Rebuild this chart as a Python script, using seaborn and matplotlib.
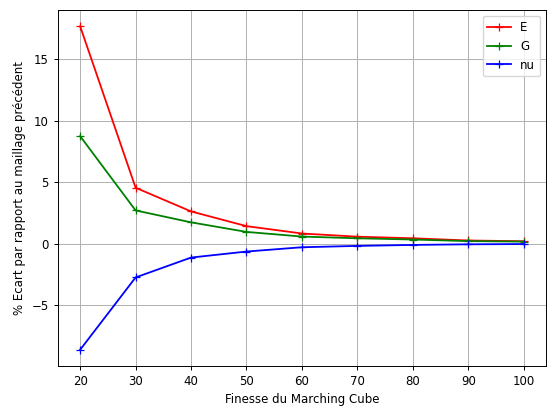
import matplotlib
matplotlib.use("Agg")
import matplotlib.pyplot as plt
import pandas as pd
import seaborn as sns

finesse = [20, 30, 40, 50, 60, 70, 80, 90, 100]
ecart_E = [17.7, 4.55, 2.62, 1.42, 0.82, 0.56, 0.43, 0.25, 0.19]
ecart_G = [8.75, 2.7, 1.73, 0.95, 0.57, 0.43, 0.33, 0.2, 0.16]
ecart_nu = [-8.65, -2.76, -1.14, -0.65, -0.3, -0.19, -0.11, -0.06, -0.04]

df = pd.DataFrame({"finesse": finesse * 3,
                   "ecart": ecart_E + ecart_G + ecart_nu,
                   "param": ["E"] * 9 + ["G"] * 9 + ["nu"] * 9})

plt.rcParams["font.size"] = 8.5
plt.rcParams["axes.linewidth"] = 0.7
plt.rcParams["grid.linewidth"] = 0.7
plt.rcParams["xtick.major.width"] = 0.7
plt.rcParams["ytick.major.width"] = 0.7
plt.rcParams["xtick.major.size"] = 3
plt.rcParams["ytick.major.size"] = 3

fig = plt.figure(figsize=(5.47, 4.07), dpi=100)
ax = fig.add_subplot(111)
sns.lineplot(x="finesse", y="ecart", hue="param", data=df, marker="+",
             palette={"E": "red", "G": "green", "nu": "blue"},
             linewidth=1.3, markersize=5.5, mew=0.9, ax=ax)
for line in ax.lines:
    line.set_markeredgecolor(line.get_color())
ax.grid(True)
ax.set_xlabel("Finesse du Marching Cube")
ax.set_ylabel("% Ecart par rapport au maillage précédent")
ax.set_xticks([20, 30, 40, 50, 60, 70, 80, 90, 100])
ax.legend(title=None, loc="upper right")
for line in ax.get_legend().get_lines():
    line.set_markeredgecolor(line.get_color())
fig.subplots_adjust(left=0.106, right=0.998, top=0.975, bottom=0.101)
plt.savefig("out.png")
